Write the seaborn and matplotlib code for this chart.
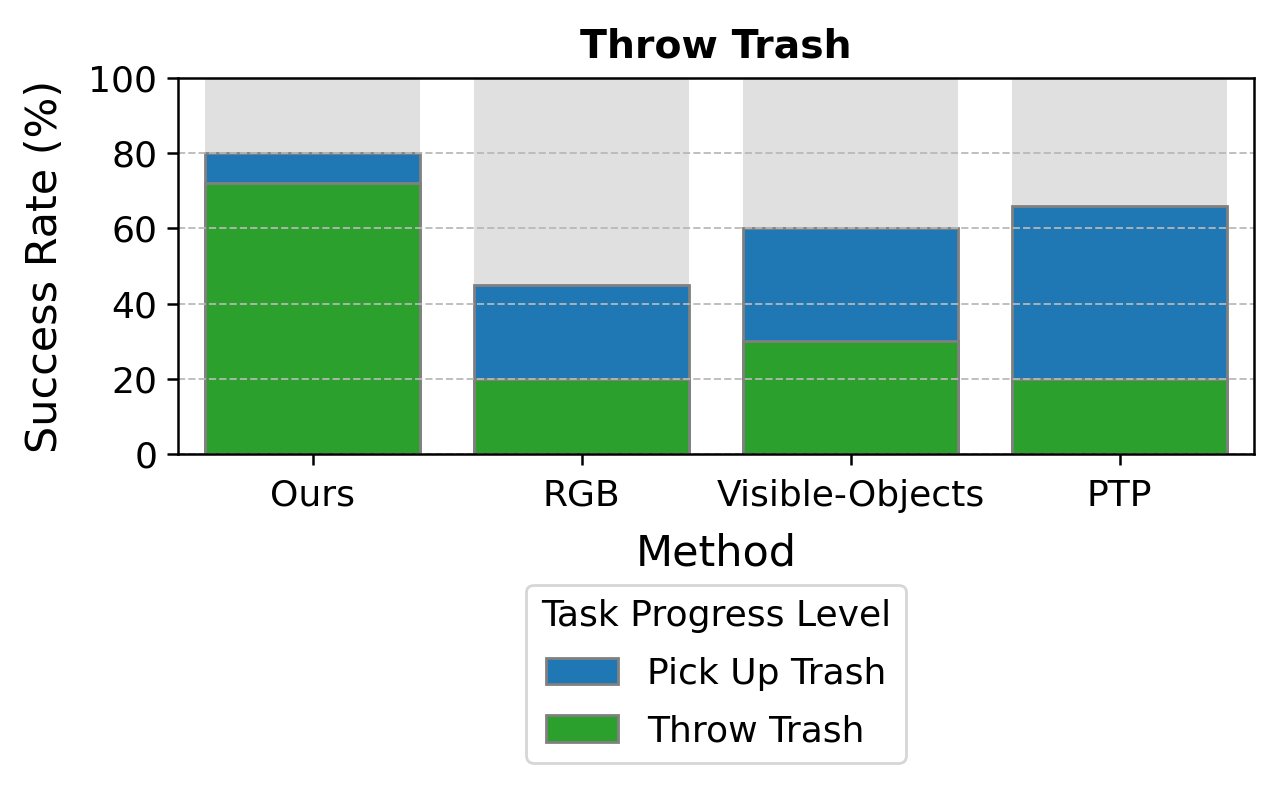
import matplotlib
matplotlib.use("Agg")
import matplotlib.pyplot as plt
import seaborn as sns
import pandas as pd
from matplotlib.patches import Patch

methods = ["Ours", "RGB", "Visible-Objects", "PTP"]
pick_up_total = [80, 45, 60, 66]   # cumulative (Pick Up Trash reached)
throw_trash = [72, 20, 30, 20]     # Throw Trash completed
full_scale = [100, 100, 100, 100]

df = pd.DataFrame({"Method": methods, "Pick": pick_up_total,
                   "Throw": throw_trash, "Full": full_scale})

sns.set_style("white", rc={"text.color": "black", "axes.labelcolor": "black",
                           "xtick.color": "black", "ytick.color": "black",
                           "axes.edgecolor": "black"})
plt.rcParams['font.family'] = ['DejaVu Sans']

fig = plt.figure(figsize=(6.4, 3.935), dpi=200)
ax = fig.add_axes([178/1280, 1-454/787, 1076/1280, 376/787])

blue = "#1f77b4"
green = "#2ca02c"
edge = "#808080"

sns.barplot(data=df, x="Method", y="Full", color="#e0e0e0", width=0.8,
            ax=ax, linewidth=0, saturation=1, zorder=0)
sns.barplot(data=df, x="Method", y="Pick", color=blue, width=0.8,
            ax=ax, edgecolor=edge, linewidth=1.0, saturation=1, zorder=1)
sns.barplot(data=df, x="Method", y="Throw", color=green, width=0.8,
            ax=ax, edgecolor=edge, linewidth=1.0, saturation=1, zorder=1)

ax.set_ylim(0, 100)
ax.set_xlim(-0.5, 3.5)
ax.set_yticks([0, 20, 40, 60, 80, 100])
ax.yaxis.grid(True, linestyle='--', color='#b8b8b8', linewidth=0.7, alpha=0.9, zorder=3)
ax.set_axisbelow(False)
for s in ax.spines.values():
    s.set_color('black')
    s.set_linewidth(0.9)
    s.set_zorder(5)
ax.tick_params(axis='both', which='both', length=4, width=0.9, labelsize=13,
               left=True, bottom=True, color='black', labelcolor='black')
ax.tick_params(axis='x', pad=5)
ax.set_xlabel("Method", fontsize=15.5, labelpad=7)
ax.set_ylabel("Success Rate (%)", fontsize=15.5, labelpad=8)
ax.set_title("Throw Trash", fontsize=14.2, fontweight='bold', pad=7.5)

handles = [Patch(facecolor=blue, edgecolor=edge, linewidth=1.0, label="Pick Up Trash"),
           Patch(facecolor=green, edgecolor=edge, linewidth=1.0, label="Throw Trash")]
leg = ax.legend(handles=handles, title="Task Progress Level", loc="upper center",
                bbox_to_anchor=(0.5, -0.348), borderaxespad=0, fontsize=13,
                title_fontsize=13, frameon=True, labelspacing=0.65,
                handleheight=0.75)

fig.savefig("out.png", dpi=200)
